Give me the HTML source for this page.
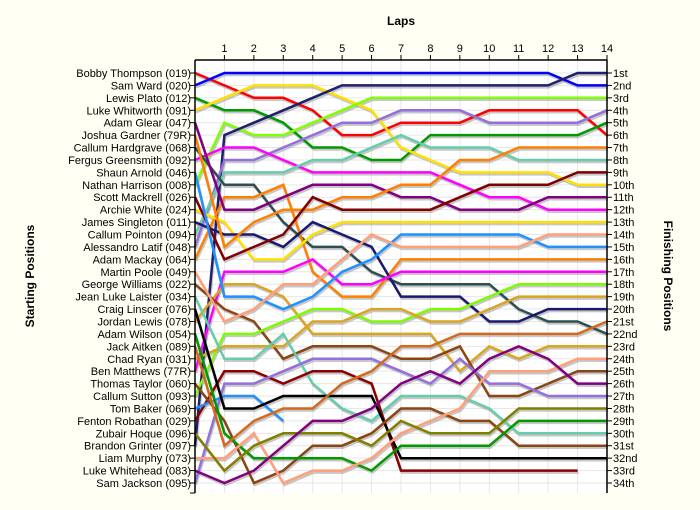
<!DOCTYPE html>
<html><head><meta charset="utf-8">
<style>
html,body{margin:0;padding:0;background:#FFFFF3;}
svg{display:block;font-family:"Liberation Sans",Arial,sans-serif;}
</style></head>
<body>
<svg id="chart" width="700" height="510" viewBox="0 0 700 510" xmlns="http://www.w3.org/2000/svg">
<rect x="0" y="0" width="700" height="510" fill="#FFFFF3"/>
<rect x="195" y="60" width="412" height="433" fill="#FFFFFF"/>
<g id="grid"></g>
<g id="shadows"></g>
<g id="lines"></g>
<g id="axes"></g>
<text x="401" y="25" text-anchor="middle" font-size="12" font-weight="bold">Laps</text>
<text transform="translate(34,276) rotate(-90)" text-anchor="middle" font-size="12" font-weight="bold">Starting Positions</text>
<text transform="translate(664,276) rotate(90)" text-anchor="middle" font-size="12" font-weight="bold">Finishing Positions</text>
</svg>
<script>
const laps = [0,1,2,3,4,5,6,7,8,9,10,11,12,13,14];
const starters = ["Bobby Thompson (019)","Sam Ward (020)","Lewis Plato (012)","Luke Whitworth (091)","Adam Glear (047)","Joshua Gardner (79R)","Callum Hardgrave (068)","Fergus Greensmith (092)","Shaun Arnold (046)","Nathan Harrison (008)","Scott Mackrell (026)","Archie White (024)","James Singleton (011)","Callum Pointon (094)","Alessandro Latif (048)","Adam Mackay (064)","Martin Poole (049)","George Williams (022)","Jean Luke Laister (034)","Craig Linscer (076)","Jordan Lewis (078)","Adam Wilson (054)","Jack Aitken (089)","Chad Ryan (031)","Ben Matthews (77R)","Thomas Taylor (060)","Callum Sutton (093)","Tom Baker (069)","Fenton Robathan (029)","Zubair Hoque (096)","Brandon Grinter (097)","Liam Murphy (073)","Luke Whitehead (083)","Sam Jackson (095)"];
const finishLabels = ["1st","2nd","3rd","4th","5th","6th","7th","8th","9th","10th","11th","12th","13th","14th","15th","16th","17th","18th","19th","20th","21st","22nd","23rd","24th","25th","26th","27th","28th","29th","30th","31st","32nd","33rd","34th"];
const seriesColors = ["#FF0000","#0000FF","#009900","#FFE000","#7FFF00","#1F1F6F","#9370DB","#FF00FF","#66CDAA","#2F4F4F","#FF7F00","#800080","#FFE000","#191970","#FF7F00","#800000","#FF00FF","#DAA520","#1E90FF","#8B4513","#FFA07A","#7CFC00","#DAA520","#66CDAA","#8B0000","#9370DB","#1E90FF","#000000","#8B4513","#009900","#D2691E","#FFA07A","#808000","#800080"];
const sRed = [1,2,3,3,4,6,6,5,5,5,4,4,4,4,6];
const sBlue = [2,1,1,1,1,1,1,1,1,1,1,1,1,2,2];
const sGreen = [3,4,4,5,7,7,8,8,6,6,6,6,6,6,5];
const sYellow = [4,3,2,2,2,3,4,7,8,9,9,9,9,10,10];
const sLime = [10,5,6,6,5,4,3,3,3,3,3,3,3,3,3];
const sNavy = [31,6,5,4,3,2,2,2,2,2,2,2,2,1,1];
const sLavender = [15,8,8,7,6,5,5,4,4,4,5,5,5,5,4];
const sMagenta = [8,7,7,8,9,9,9,9,9,10,11,11,12,12,12];
const sTeal = [14,9,9,9,8,8,7,6,7,7,7,8,8,8,8];
const sSlate = [7,10,10,13,15,15,17,18,18,18,18,20,21,21,22];
const sOrange2 = [16,11,11,10,17,19,19,16,16,16,16,16,16,16,16];
const sPurple = [5,12,12,11,10,10,10,11,11,12,12,12,11,11,11];
const sYellow2 = [12,13,16,16,14,13,13,13,13,13,13,13,13,13,13];
const sNavy2 = [13,14,14,15,13,14,15,19,19,19,21,21,20,20,20];
const sOrange1 = [6,15,13,12,12,11,11,10,10,8,8,7,7,7,7];
const sMaroon = [11,16,15,14,11,12,12,12,12,11,10,10,10,9,9];
const sMagenta2 = [25,17,17,17,16,18,18,17,17,17,17,17,17,17,17];
const sGoldB = [21,18,18,19,22,22,22,22,22,25,23,24,23,23,23];
const sDodger = [9,19,19,20,19,17,16,14,14,14,14,14,15,15,15];
const sBrown1 = [18,20,21,24,23,23,23,24,24,23,27,27,26,25,25];
const sSalmon = [17,21,20,18,18,16,14,15,15,15,15,15,14,14,14];
const sLime2 = [27,22,22,21,20,20,21,21,20,20,19,18,18,18,18];
const sGoldC = [24,23,23,23,21,21,20,20,21,21,20,19,19,19,19];
const sTeal2 = [19,24,24,22,26,28,29,27,27,27,28,30,30,30,30];
const sMaroon2 = [29,25,25,26,25,25,26,33,33,33,33,33,33,33,null];
const sLavender2 = [34,26,26,25,24,24,24,25,26,24,26,26,27,27,27];
const sDodger2 = [28,27,27,29,null,null,null,null,null,null,null,null,null,null,null];
const sBlack = [20,28,28,27,27,27,27,32,32,32,32,32,32,32,32];
const sBrown2 = [26,29,34,33,31,31,30,28,28,29,29,31,31,31,31];
const sGreen2 = [22,30,32,32,32,32,33,31,31,31,31,29,29,29,29];
const sChocolate = [23,31,29,28,28,26,25,23,23,22,22,22,22,22,21];
const sSalmon2 = [32,32,30,34,33,33,32,30,29,28,25,25,25,24,24];
const sOlive = [30,33,31,30,30,30,31,29,30,30,30,28,28,28,28];
const sPurple2 = [33,34,33,31,29,29,28,26,25,26,24,23,24,26,26];
const allSeries = [sRed,sBlue,sGreen,sYellow,sLime,sNavy,sLavender,sMagenta,sTeal,sSlate,sOrange2,sPurple,sYellow2,sNavy2,sOrange1,sMaroon,sMagenta2,sGoldB,sDodger,sBrown1,sSalmon,sLime2,sGoldC,sTeal2,sMaroon2,sLavender2,sDodger2,sBlack,sBrown2,sGreen2,sChocolate,sSalmon2,sOlive,sPurple2];

const NS = "http://www.w3.org/2000/svg";
const X0 = 195, X1 = 607, Y0 = 73, Y1 = 483;
const maxLap = laps[laps.length-1], nPos = starters.length;
function xScale(l){ return X0 + (X1-X0)*l/maxLap; }
function yScale(p){ return Y0 + (Y1-Y0)*(p-1)/(nPos-1); }
function mk(tag, attrs, parent){ const e=document.createElementNS(NS,tag); for(const k in attrs) e.setAttribute(k,attrs[k]); parent.appendChild(e); return e; }

const gridG = document.getElementById('grid');
const axesG = document.getElementById('axes');
for (let i=1;i<=nPos;i++){
  const g = mk('line',{x1:X0,x2:X1,y1:yScale(i),y2:yScale(i),stroke:'#E6E6E6','stroke-width':1},gridG);
  
  
}
laps.forEach(l=>{
  if(l===0) return;
  const g = mk('line',{x1:xScale(l),x2:xScale(l),y1:60,y2:493,stroke:'#E6E6E6','stroke-width':1},gridG);
  
  
});

const shadowsG = document.getElementById('shadows');
const linesG = document.getElementById('lines');
allSeries.forEach((s,i)=>{
  const pts = [];
  s.forEach((p,l)=>{ if(p!==null) pts.push(xScale(laps[l]).toFixed(1)+','+yScale(p).toFixed(1)); });
  const sh = mk('polyline',{points:pts.join(' '),fill:'none',stroke:'#999','stroke-opacity':'0.55','stroke-width':2.5,transform:'translate(1,2)'},shadowsG);
  
  
  const ln = mk('polyline',{points:pts.join(' '),fill:'none',stroke:seriesColors[i],'stroke-width':2.5},linesG);
  
  
});

const topAxisLine = mk('line',{x1:X0,x2:X1,y1:60,y2:60,stroke:'#000','stroke-width':1.5},axesG);


const leftAxisLine = mk('line',{x1:X0,x2:X0,y1:60,y2:493,stroke:'#000','stroke-width':1.5},axesG);


const rightAxisLine = mk('line',{x1:X1,x2:X1,y1:60,y2:493,stroke:'#000','stroke-width':1.5},axesG);


laps.forEach(l=>{
  if(l===0) return;
  const t = mk('line',{x1:xScale(l),x2:xScale(l),y1:55,y2:60,stroke:'#000'},axesG);
  
  
  const tx = mk('text',{x:xScale(l),y:52,'text-anchor':'middle','font-size':11},axesG);
  tx.textContent = l;
  
  
});
for(let i=1;i<=nPos;i++){
  const y=yScale(i);
  const t1 = mk('line',{x1:X0-5,x2:X0,y1:y,y2:y,stroke:'#000'},axesG);
  
  
  const a = mk('text',{x:X0-4,y:y+4,'text-anchor':'end','font-size':11},axesG);
  a.textContent = starters[i-1];
  
  
  const t2 = mk('line',{x1:X1,x2:X1+5,y1:y,y2:y,stroke:'#000'},axesG);
  
  
  const b = mk('text',{x:X1+6,y:y+4,'font-size':11},axesG);
  b.textContent = finishLabels[i-1];
  
  
}
const bottomTick = mk('line',{x1:X0-5,x2:X0,y1:493,y2:493,stroke:'#000'},axesG);


</script>
</body></html>
